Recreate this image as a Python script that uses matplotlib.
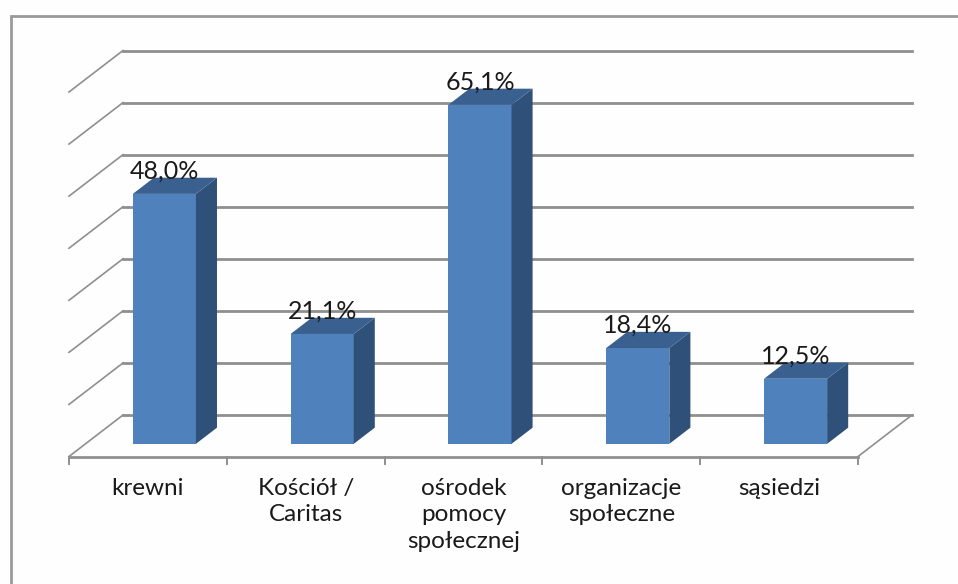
import matplotlib
matplotlib.use('Agg')
import matplotlib.pyplot as plt
from matplotlib.patches import Polygon

categories = ['krewni', 'Kościół /\nCaritas', 'ośrodek\npomocy\nspołecznej', 'organizacje\nspołeczne', 'sąsiedzi']
values = [48.0, 21.1, 65.1, 18.4, 12.5]
labels = ['48,0%', '21,1%', '65,1%', '18,4%', '12,5%']
grid_values = [0, 10, 20, 30, 40, 50, 60, 70]

W, H = 958, 584
# front plane of the 3d box, in pixels
X0, X1 = 69, 858
Y0, Y70 = 456.5, 92
# depth of the box and of a bar, in axis units
DX = 54 / ((X1 - X0) / 5)
DY = 41.5 / ((Y0 - Y70) / 70)
BAR_W = 0.4
BAR_DEPTH = 0.39

FRONT = '#4f81bd'
SIDE = '#2f5078'
TOP = '#3a6090'
GRID = '#8f8f8f'
TEXT = '#1a1a1a'

plt.rcParams['font.family'] = ['Lato', 'DejaVu Sans']
fig = plt.figure(figsize=(W / 100, H / 100), dpi=100, facecolor='#fefefe')

# chart frame, only left and top show in the crop
frame = fig.add_axes([0, 0, 1, 1])
frame.set_xlim(0, W)
frame.set_ylim(H, 0)
frame.axis('off')
frame.plot([11, 11, W], [H, 16, 16], color='#9a9a9a', lw=2, solid_joinstyle='miter')

ax = fig.add_axes([X0 / W, 1 - Y0 / H, (X1 - X0) / W, (Y0 - Y70) / H])
ax.set_xlim(0, 5)
ax.set_ylim(0, 70)
ax.axis('off')

# back wall grid lines and left side lines
for g in grid_values:
    ax.plot([DX, 5 + DX], [g + DY, g + DY], color=GRID, lw=2, clip_on=False, zorder=1)
    ax.plot([0, DX], [g, g + DY], color=GRID, lw=1.2, clip_on=False, zorder=1)

# floor front edge, right edge and ticks
ax.plot([0, 5], [0, 0], color=GRID, lw=2, clip_on=False, zorder=1)
ax.plot([5, 5 + DX], [0, DY], color=GRID, lw=1.2, clip_on=False, zorder=1)
for i in range(6):
    ax.plot([i, i], [0, -1.4], color=GRID, lw=1.4, clip_on=False, zorder=1)

for i, v in enumerate(values):
    # bar sits in the middle of the depth
    x = i + 0.5 + DX / 2 - BAR_W / 2 - BAR_DEPTH * DX / 2
    y = DY / 2 - BAR_DEPTH * DY / 2
    x2 = x + BAR_W
    dx = BAR_DEPTH * DX
    dy = BAR_DEPTH * DY
    ax.add_patch(Polygon([(x, y), (x2, y), (x2, y + v), (x, y + v)], fc=FRONT, ec='none', zorder=3, clip_on=False))
    ax.add_patch(Polygon([(x2, y), (x2 + dx, y + dy), (x2 + dx, y + v + dy), (x2, y + v)], fc=SIDE, ec='none', zorder=3, clip_on=False))
    ax.add_patch(Polygon([(x, y + v), (x2, y + v), (x2 + dx, y + v + dy), (x + dx, y + v + dy)], fc=TOP, ec='none', zorder=3, clip_on=False))
    ax.text(x + BAR_W / 2, y + v + dy - 0.9, labels[i], ha='center', va='bottom', fontsize=18,
            color=TEXT, zorder=4, clip_on=False)
    ax.text(i + 0.5, -4.1, categories[i], ha='center', va='top', fontsize=17.5, color=TEXT,
            linespacing=1.32, clip_on=False)

fig.savefig('out.png', dpi=100, facecolor=fig.get_facecolor())
